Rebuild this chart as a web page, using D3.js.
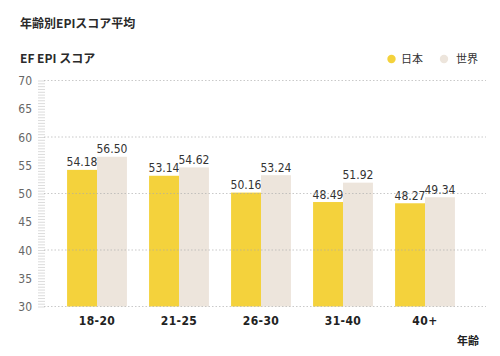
<!DOCTYPE html>
<html><head><meta charset="utf-8">
<script src="https://cdn.jsdelivr.net/npm/d3@7"></script>
<style>
body{margin:0;background:#fff;}
svg{display:block;}
</style></head>
<body>
<svg id="c" width="500" height="356"></svg>
<script>
const categories = ["18-20","21-25","26-30","31-40","40+"];
const japan = [54.18, 53.14, 50.16, 48.49, 48.27];
const world = [56.50, 54.62, 53.24, 51.92, 49.34];
const seriesNames = ["日本","世界"];
const yTicks = [30,35,40,45,50,55,60,65,70];
const gridTicks = [30,40,50,60,70];

const colors = ["#f4d23c","#ede5dc"];
const condensed = "'DejaVu Sans Condensed','Roboto','DejaVu Sans',sans-serif";
const cjk = "'Noto Sans CJK JP','Noto Sans',sans-serif";

const svg = d3.select("#c");
const y = d3.scaleLinear().domain([30,70]).range([306.5,80.5]);
const x = d3.scaleBand().domain(categories).range([56,466]).paddingInner(0.27).paddingOuter(0.135);
const xs = d3.scaleBand().domain(seriesNames).range([0,x.bandwidth()]);

// titles
svg.append("text").attr("x",20).attr("y",28).text("年齢別EPIスコア平均")
  .attr("font-family",cjk).attr("font-size",12).attr("font-weight",700).attr("fill","#2a2a2a");
svg.append("text").attr("x",20).attr("y",63).text("EF EPI スコア")
  .attr("font-family",cjk).attr("font-size",12).attr("font-weight",700).attr("fill","#2a2a2a");

// legend
const leg = [{name:seriesNames[0],cx:391.5,tx:401},{name:seriesNames[1],cx:444,tx:456}];
leg.forEach((l,i)=>{
  svg.append("circle").attr("cx",l.cx).attr("cy",59).attr("r",4.2).attr("fill",colors[i]);
  svg.append("text").attr("x",l.tx).attr("y",63).text(l.name)
    .attr("font-family",cjk).attr("font-size",11).attr("fill","#333");
});

// minor ruler ticks
const minor = d3.range(30,70.01,0.5);
svg.append("g").selectAll("line").data(minor).join("line")
  .attr("x1",38).attr("x2",45)
  .attr("y1",d=>y(d)+0.5).attr("y2",d=>y(d)+0.5)
  .attr("stroke","#d2d2d2").attr("stroke-width",0.8);

// y tick labels
svg.append("g").selectAll("text").data(yTicks).join("text")
  .attr("x",32).attr("y",d=>y(d)+4.5).attr("text-anchor","end")
  .text(d=>d).attr("font-family",condensed).attr("font-size",12).attr("fill","#666");

// bars
const data = categories.map((c,i)=>({c, vals:[japan[i],world[i]]}));
const g = svg.append("g");
data.forEach(d=>{
  d.vals.forEach((v,j)=>{
    const bx = x(d.c)+xs(seriesNames[j]);
    g.append("rect").attr("x",bx).attr("y",y(v)).attr("width",xs.bandwidth())
      .attr("height",y(30)-y(v)).attr("fill",colors[j]);
    g.append("text").attr("x",bx+xs.bandwidth()/2).attr("y",y(v)-3.5)
      .attr("text-anchor","middle").text(v.toFixed(2))
      .attr("font-family",condensed).attr("font-size",12).attr("fill","#333");
  });
});

// gridlines (over bars)
svg.append("g").selectAll("line").data(gridTicks).join("line")
  .attr("x1",44).attr("x2",486)
  .attr("y1",d=>y(d)).attr("y2",d=>y(d))
  .attr("stroke","#aaaaaa").attr("stroke-width",0.9).attr("stroke-dasharray","1.5,2").attr("opacity",0.7);

// category labels
svg.append("g").selectAll("text").data(categories).join("text")
  .attr("x",d=>x(d)+x.bandwidth()/2).attr("y",325).attr("text-anchor","middle")
  .attr("letter-spacing",0.4)
  .text(d=>d).attr("font-family",condensed).attr("font-size",12).attr("font-weight",700).attr("fill","#222");

svg.append("text").attr("x",479).attr("y",345).attr("text-anchor","end").text("年齢")
  .attr("font-family",cjk).attr("font-size",11).attr("font-weight",700).attr("fill","#222");
</script>
</body></html>
